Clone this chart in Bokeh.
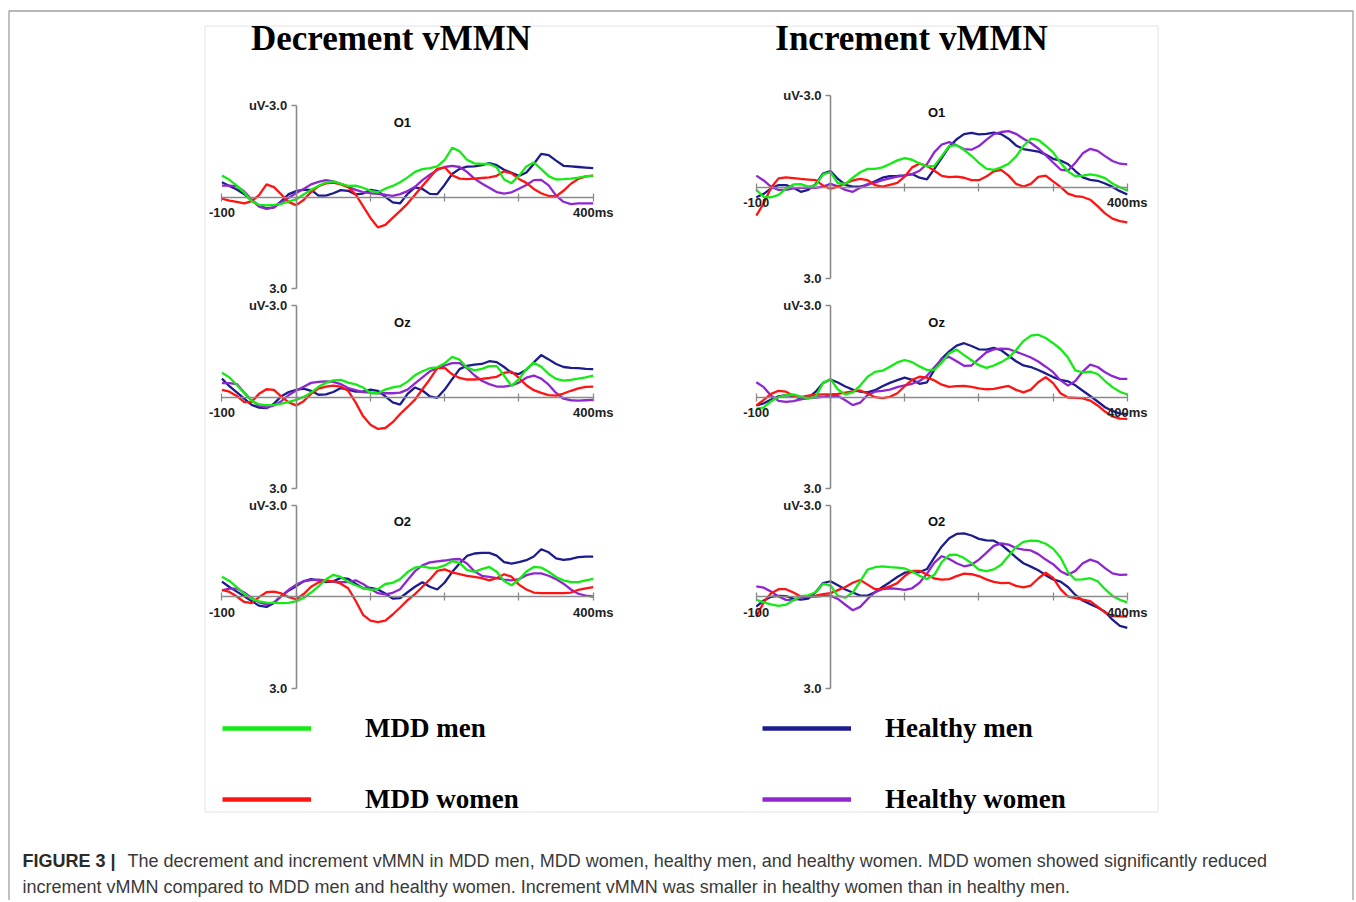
from bokeh.plotting import figure
from bokeh.models import Range1d, LinearAxis, FixedTicker, Legend, LegendItem
from bokeh.core.properties import value
from bokeh.embed import file_html
from bokeh.resources import INLINE

# ---------------- data ----------------
time_ms = list(range(-100, 401, 10))
conditions = ["Decrement vMMN", "Increment vMMN"]
channels = ["O1", "Oz", "O2"]
groups = ["MDD men", "MDD women", "Healthy men", "Healthy women"]
group_colors = ["#14ea14", "#ff1414", "#1c1c8c", "#8f27d1"]
x_ticks = [-100, 0, 100, 200, 300, 400]
x_tick_labels = ["-100", "", "", "", "", "400ms"]
y_ticks = [-3.0, 3.0]
y_tick_labels = ["uV-3.0", "3.0"]

dec_O1_mdd_men = [
    -0.71, -0.57, -0.38, -0.15, 0.13, 0.25, 0.27, 0.25, 0.22, 0.14,
    0.07, -0.09, -0.24, -0.37, -0.48, -0.52, -0.44, -0.37, -0.38, -0.31,
    -0.21, -0.16, -0.28, -0.37, -0.49, -0.65, -0.83, -0.92, -0.95, -1.01,
    -1.22, -1.62, -1.51, -1.23, -1.11, -1.09, -1.09, -0.98, -0.58, -0.46,
    -0.70, -1.01, -1.14, -0.92, -0.69, -0.58, -0.59, -0.61, -0.64, -0.68,
    -0.71]
dec_O1_mdd_women = [
    0.05, 0.11, 0.15, 0.20, 0.13, -0.07, -0.42, -0.33, -0.09, 0.16,
    0.26, 0.09, -0.17, -0.36, -0.45, -0.48, -0.42, -0.33, -0.09, 0.29,
    0.68, 0.99, 0.91, 0.68, 0.45, 0.21, -0.08, -0.37, -0.65, -0.93,
    -0.98, -0.72, -0.61, -0.59, -0.61, -0.63, -0.65, -0.70, -0.85, -0.78,
    -0.60, -0.47, -0.27, -0.13, -0.04, -0.03, -0.21, -0.44, -0.60, -0.68,
    -0.71]
dec_O1_healthy_men = [
    -0.49, -0.37, -0.25, -0.10, 0.11, 0.27, 0.37, 0.33, 0.13, -0.10,
    -0.20, -0.25, -0.24, -0.05, -0.05, -0.13, -0.23, -0.21, -0.09, -0.12,
    -0.24, -0.20, -0.01, 0.17, 0.20, -0.11, -0.32, -0.27, -0.11, -0.10,
    -0.41, -0.76, -0.93, -1.00, -1.01, -1.05, -1.12, -1.05, -0.90, -0.80,
    -0.70, -0.81, -1.09, -1.42, -1.38, -1.20, -1.03, -1.01, -0.99, -0.97,
    -0.95]
dec_O1_healthy_women = [
    -0.38, -0.38, -0.36, -0.19, 0.08, 0.31, 0.38, 0.33, 0.17, 0.02,
    -0.14, -0.27, -0.42, -0.50, -0.56, -0.52, -0.44, -0.34, -0.24, -0.17,
    -0.13, -0.11, -0.08, -0.04, -0.10, -0.20, -0.34, -0.56, -0.74, -0.89,
    -0.99, -1.03, -0.99, -0.83, -0.61, -0.45, -0.31, -0.17, -0.12, -0.16,
    -0.28, -0.40, -0.56, -0.57, -0.39, -0.05, 0.15, 0.23, 0.20, 0.20,
    0.20]

dec_Oz_mdd_men = [
    -0.80, -0.65, -0.40, -0.14, 0.12, 0.24, 0.26, 0.25, 0.21, 0.15,
    0.09, -0.01, -0.15, -0.34, -0.47, -0.55, -0.57, -0.48, -0.42, -0.32,
    -0.13, -0.13, -0.25, -0.32, -0.36, -0.51, -0.72, -0.85, -0.95, -0.98,
    -1.11, -1.32, -1.23, -0.97, -0.88, -0.93, -1.02, -1.02, -0.71, -0.37,
    -0.59, -0.92, -1.13, -1.00, -0.76, -0.60, -0.54, -0.57, -0.61, -0.65,
    -0.71]
dec_Oz_mdd_women = [
    -0.24, -0.18, -0.04, 0.16, 0.15, -0.11, -0.26, -0.24, -0.02, 0.17,
    0.27, 0.13, -0.11, -0.28, -0.35, -0.38, -0.35, -0.21, 0.17, 0.62,
    0.90, 1.04, 1.01, 0.82, 0.55, 0.32, 0.08, -0.26, -0.59, -0.95,
    -0.96, -0.75, -0.63, -0.58, -0.58, -0.60, -0.63, -0.67, -0.80, -0.84,
    -0.63, -0.39, -0.23, -0.14, -0.07, -0.05, -0.12, -0.21, -0.29, -0.34,
    -0.35]
dec_Oz_healthy_men = [
    -0.61, -0.36, -0.16, 0.05, 0.25, 0.34, 0.36, 0.21, -0.03, -0.17,
    -0.24, -0.28, -0.21, -0.08, -0.09, -0.17, -0.30, -0.25, -0.18, -0.18,
    -0.25, -0.21, -0.03, 0.17, 0.24, -0.11, -0.32, -0.22, -0.03, 0.02,
    -0.25, -0.59, -0.92, -1.03, -1.07, -1.09, -1.18, -1.15, -0.99, -0.80,
    -0.76, -0.90, -1.14, -1.38, -1.24, -1.09, -0.99, -0.96, -0.95, -0.93,
    -0.92]
dec_Oz_healthy_women = [
    -0.46, -0.46, -0.43, -0.15, 0.11, 0.28, 0.34, 0.27, 0.13, -0.07,
    -0.22, -0.34, -0.47, -0.50, -0.52, -0.50, -0.43, -0.30, -0.23, -0.17,
    -0.15, -0.13, -0.13, -0.13, -0.15, -0.25, -0.45, -0.65, -0.85, -0.95,
    -1.04, -1.12, -1.12, -0.95, -0.72, -0.54, -0.43, -0.35, -0.35, -0.39,
    -0.48, -0.64, -0.71, -0.61, -0.41, -0.14, 0.05, 0.10, 0.11, 0.10,
    0.09]

dec_O2_mdd_men = [
    -0.65, -0.51, -0.31, -0.09, 0.08, 0.16, 0.20, 0.21, 0.22, 0.21,
    0.15, 0.05, -0.13, -0.33, -0.56, -0.71, -0.64, -0.48, -0.37, -0.28,
    -0.22, -0.24, -0.41, -0.45, -0.57, -0.80, -0.95, -0.99, -0.94, -0.94,
    -1.02, -1.16, -1.10, -0.87, -0.81, -0.90, -0.97, -0.81, -0.51, -0.37,
    -0.55, -0.82, -0.97, -0.95, -0.81, -0.64, -0.53, -0.47, -0.47, -0.53,
    -0.58]
dec_O2_mdd_women = [
    -0.22, -0.15, 0.00, 0.18, 0.22, 0.02, -0.14, -0.16, -0.10, 0.02,
    0.09, -0.08, -0.32, -0.46, -0.51, -0.50, -0.42, -0.27, 0.14, 0.60,
    0.79, 0.84, 0.79, 0.59, 0.36, 0.12, -0.08, -0.32, -0.56, -0.84,
    -0.89, -0.79, -0.73, -0.68, -0.64, -0.60, -0.53, -0.60, -0.73, -0.65,
    -0.39, -0.23, -0.13, -0.11, -0.11, -0.11, -0.11, -0.13, -0.22, -0.27,
    -0.31]
dec_O2_healthy_men = [
    -0.49, -0.31, -0.16, -0.01, 0.15, 0.30, 0.34, 0.21, -0.02, -0.20,
    -0.34, -0.50, -0.57, -0.53, -0.47, -0.50, -0.61, -0.58, -0.42, -0.27,
    -0.28, -0.23, -0.10, 0.07, 0.05, -0.14, -0.32, -0.47, -0.32, -0.23,
    -0.46, -0.80, -1.08, -1.33, -1.41, -1.43, -1.43, -1.34, -1.13, -1.08,
    -1.13, -1.19, -1.31, -1.55, -1.45, -1.25, -1.20, -1.23, -1.29, -1.31,
    -1.31]
dec_O2_healthy_women = [
    -0.20, -0.26, -0.26, -0.13, 0.05, 0.19, 0.26, 0.20, -0.01, -0.22,
    -0.39, -0.50, -0.54, -0.55, -0.53, -0.49, -0.47, -0.47, -0.53, -0.41,
    -0.25, -0.11, -0.07, -0.12, -0.24, -0.54, -0.83, -1.02, -1.12, -1.15,
    -1.18, -1.22, -1.23, -1.08, -0.83, -0.68, -0.64, -0.60, -0.55, -0.53,
    -0.57, -0.70, -0.76, -0.76, -0.68, -0.57, -0.42, -0.23, -0.09, -0.03,
    0.00]

inc_O1_mdd_men = [
    0.09, 0.32, 0.33, 0.25, 0.05, -0.09, -0.10, -0.02, -0.07, -0.42,
    -0.49, -0.13, -0.11, -0.31, -0.49, -0.60, -0.60, -0.65, -0.76, -0.88,
    -0.95, -0.90, -0.78, -0.68, -0.70, -1.02, -1.35, -1.38, -1.22, -1.03,
    -0.80, -0.61, -0.57, -0.65, -0.77, -1.00, -1.35, -1.59, -1.55, -1.36,
    -1.14, -0.80, -0.52, -0.36, -0.38, -0.42, -0.38, -0.30, -0.12, 0.00,
    0.11]
inc_O1_mdd_women = [
    0.93, 0.53, 0.01, -0.29, -0.32, -0.30, -0.27, -0.25, -0.23, -0.05,
    0.05, -0.02, -0.12, -0.22, -0.27, -0.23, -0.07, -0.02, -0.08, -0.14,
    -0.35, -0.65, -0.77, -0.70, -0.54, -0.37, -0.33, -0.35, -0.31, -0.23,
    -0.23, -0.35, -0.52, -0.57, -0.38, -0.11, -0.02, -0.11, -0.34, -0.38,
    -0.19, -0.01, 0.21, 0.29, 0.32, 0.41, 0.62, 0.86, 1.03, 1.11,
    1.15]
inc_O1_healthy_men = [
    0.33, 0.22, 0.04, -0.07, -0.07, 0.02, 0.15, 0.09, -0.10, -0.45,
    -0.53, -0.27, -0.08, -0.02, -0.02, -0.08, -0.19, -0.31, -0.36, -0.37,
    -0.39, -0.43, -0.31, -0.26, -0.60, -0.96, -1.33, -1.57, -1.74, -1.78,
    -1.73, -1.75, -1.79, -1.74, -1.59, -1.37, -1.25, -1.21, -1.17, -1.07,
    -0.93, -0.87, -0.76, -0.53, -0.32, -0.24, -0.21, -0.12, -0.01, 0.13,
    0.24]
inc_O1_healthy_women = [
    -0.38, -0.22, -0.01, 0.09, 0.09, 0.04, 0.02, 0.02, 0.02, -0.02,
    -0.11, -0.03, 0.09, 0.15, 0.02, -0.10, -0.15, -0.23, -0.29, -0.35,
    -0.38, -0.43, -0.54, -0.76, -1.15, -1.40, -1.48, -1.37, -1.25, -1.23,
    -1.35, -1.55, -1.74, -1.81, -1.84, -1.75, -1.59, -1.45, -1.27, -1.05,
    -0.81, -0.58, -0.54, -0.80, -1.11, -1.26, -1.19, -1.02, -0.86, -0.77,
    -0.75]

inc_Oz_mdd_men = [
    0.38, 0.33, 0.13, 0.00, -0.07, -0.09, -0.02, 0.05, -0.02, -0.47,
    -0.60, -0.25, -0.09, -0.16, -0.38, -0.67, -0.83, -0.87, -1.00, -1.14,
    -1.22, -1.15, -1.01, -0.89, -0.90, -1.14, -1.44, -1.56, -1.38, -1.21,
    -1.05, -0.96, -1.04, -1.15, -1.29, -1.55, -1.84, -2.02, -2.05, -1.94,
    -1.77, -1.58, -1.30, -0.88, -0.81, -0.84, -0.76, -0.53, -0.33, -0.18,
    -0.09]
inc_Oz_mdd_women = [
    0.27, 0.09, -0.11, -0.21, -0.18, -0.04, 0.00, -0.05, -0.08, -0.09,
    -0.09, -0.11, -0.15, -0.19, -0.22, -0.12, 0.00, 0.03, -0.01, -0.13,
    -0.36, -0.57, -0.67, -0.64, -0.55, -0.41, -0.34, -0.36, -0.37, -0.34,
    -0.29, -0.26, -0.27, -0.32, -0.37, -0.24, -0.16, -0.25, -0.49, -0.66,
    -0.46, -0.13, 0.01, 0.02, 0.04, 0.11, 0.27, 0.47, 0.63, 0.70,
    0.71]
inc_Oz_healthy_men = [
    0.27, 0.20, 0.08, -0.03, -0.07, -0.04, 0.05, 0.02, -0.18, -0.47,
    -0.58, -0.48, -0.35, -0.25, -0.18, -0.16, -0.23, -0.36, -0.47, -0.56,
    -0.64, -0.57, -0.44, -0.49, -0.90, -1.27, -1.50, -1.69, -1.77, -1.68,
    -1.57, -1.56, -1.62, -1.54, -1.36, -1.18, -1.04, -0.99, -0.89, -0.78,
    -0.66, -0.57, -0.52, -0.39, -0.21, -0.04, 0.14, 0.33, 0.45, 0.54,
    0.55]
inc_Oz_healthy_women = [
    -0.49, -0.33, -0.05, 0.12, 0.15, 0.13, 0.07, 0.03, 0.01, -0.01,
    -0.05, -0.04, 0.10, 0.26, 0.18, -0.07, -0.18, -0.21, -0.25, -0.33,
    -0.39, -0.44, -0.53, -0.70, -0.98, -1.25, -1.32, -1.18, -1.03, -1.04,
    -1.26, -1.47, -1.57, -1.59, -1.58, -1.49, -1.40, -1.30, -1.17, -1.00,
    -0.82, -0.55, -0.38, -0.53, -0.84, -1.07, -0.99, -0.82, -0.69, -0.60,
    -0.60]

inc_O2_mdd_men = [
    0.11, 0.19, 0.26, 0.31, 0.27, 0.12, -0.01, -0.04, -0.14, -0.42,
    -0.36, -0.02, 0.04, -0.13, -0.50, -0.88, -0.96, -0.99, -0.96, -0.95,
    -0.92, -0.82, -0.68, -0.57, -0.71, -1.13, -1.36, -1.37, -1.26, -1.09,
    -0.88, -0.83, -0.89, -1.04, -1.33, -1.62, -1.79, -1.83, -1.82, -1.73,
    -1.57, -1.28, -0.80, -0.55, -0.56, -0.60, -0.50, -0.24, -0.02, 0.11,
    0.19]
inc_O2_mdd_women = [
    0.66, 0.19, -0.11, -0.24, -0.24, -0.13, 0.00, 0.00, -0.03, -0.08,
    -0.11, -0.21, -0.31, -0.45, -0.54, -0.39, -0.24, -0.25, -0.33, -0.44,
    -0.67, -0.84, -0.84, -0.72, -0.59, -0.55, -0.57, -0.67, -0.75, -0.73,
    -0.67, -0.56, -0.48, -0.44, -0.45, -0.35, -0.30, -0.36, -0.59, -0.78,
    -0.61, -0.24, 0.00, 0.05, 0.10, 0.15, 0.33, 0.53, 0.64, 0.65,
    0.66]
inc_O2_healthy_men = [
    0.33, 0.13, 0.01, -0.02, -0.01, 0.07, 0.10, 0.07, -0.14, -0.44,
    -0.50, -0.37, -0.23, -0.13, -0.03, -0.03, -0.14, -0.31, -0.47, -0.64,
    -0.78, -0.81, -0.80, -0.90, -1.28, -1.64, -1.91, -2.05, -2.07, -2.00,
    -1.89, -1.84, -1.83, -1.70, -1.50, -1.28, -1.09, -0.98, -0.86, -0.70,
    -0.56, -0.49, -0.31, -0.05, 0.13, 0.25, 0.36, 0.50, 0.76, 0.96,
    1.03]
inc_O2_healthy_women = [
    -0.33, -0.29, -0.16, 0.00, 0.11, 0.12, 0.03, 0.00, 0.00, -0.02,
    -0.03, 0.08, 0.27, 0.45, 0.34, 0.08, -0.14, -0.24, -0.27, -0.25,
    -0.22, -0.27, -0.45, -0.75, -1.11, -1.32, -1.23, -1.09, -0.99, -1.04,
    -1.21, -1.43, -1.66, -1.74, -1.70, -1.59, -1.54, -1.51, -1.39, -1.21,
    -1.06, -0.83, -0.71, -0.84, -1.09, -1.21, -1.13, -0.93, -0.76, -0.71,
    -0.72]

caption_bold = "FIGURE 3 |"
caption_line1 = ("The decrement and increment vMMN in MDD men, MDD women, healthy men, "
                 "and healthy women. MDD women showed significantly reduced")
caption_line2 = ("increment vMMN compared to MDD men and healthy women. Increment vMMN "
                 "was smaller in healthy women than in healthy men.")

series = {
    ("Decrement vMMN", "O1"): [dec_O1_mdd_men, dec_O1_mdd_women, dec_O1_healthy_men, dec_O1_healthy_women],
    ("Decrement vMMN", "Oz"): [dec_Oz_mdd_men, dec_Oz_mdd_women, dec_Oz_healthy_men, dec_Oz_healthy_women],
    ("Decrement vMMN", "O2"): [dec_O2_mdd_men, dec_O2_mdd_women, dec_O2_healthy_men, dec_O2_healthy_women],
    ("Increment vMMN", "O1"): [inc_O1_mdd_men, inc_O1_mdd_women, inc_O1_healthy_men, inc_O1_healthy_women],
    ("Increment vMMN", "Oz"): [inc_Oz_mdd_men, inc_Oz_mdd_women, inc_Oz_healthy_men, inc_Oz_healthy_women],
    ("Increment vMMN", "O2"): [inc_O2_mdd_men, inc_O2_mdd_women, inc_O2_healthy_men, inc_O2_healthy_women],
}

# ---------------- layout (page pixels; the figure sits at the page origin) ----------------
W, H = 1354, 900
col_x = {"Decrement vMMN": (295.7, 0.7425), "Increment vMMN": (830.0, 0.742)}  # t=0 px, px per ms
row_zero = {
    ("Decrement vMMN", "O1"): 196.7, ("Increment vMMN", "O1"): 186.7,
    ("Decrement vMMN", "Oz"): 396.7, ("Increment vMMN", "Oz"): 396.7,
    ("Decrement vMMN", "O2"): 596.0, ("Increment vMMN", "O2"): 596.0,
}
UV_PX = 30.5
AX_COL = "#8a8a8a"
LABEL_FONT = "Liberation Sans"

p = figure(width=W, height=H, x_range=Range1d(0, W), y_range=Range1d(H, 0),
           output_backend="svg", toolbar_location=None, min_border=0,
           x_axis_type=None, y_axis_type=None)
p.outline_line_color = None
p.background_fill_color = "white"
p.border_fill_color = "white"

# page frame and figure box
p.line(x=[8.5, 8.5, 1352.5, 1352.5], y=[905, 10.5, 10.5, 905], line_color="#a0a0a0", line_width=1.3)
p.quad(left=[204.5], right=[1157.5], top=[25.5], bottom=[811.5], fill_color=None,
       line_color="#e2e2e2", line_width=1)

xr, yr = {}, {}
for ci, cond in enumerate(conditions):
    a, b = col_x[cond]
    xr[f"x{ci}"] = Range1d((0 - a) / b, (W - a) / b)
    for ri, ch in enumerate(channels):
        z = row_zero[(cond, ch)]
        yr[f"y{ci}{ri}"] = Range1d((H - z) / UV_PX, (0 - z) / UV_PX)
p.extra_x_ranges = xr
p.extra_y_ranges = yr

draw_order = [2, 3, 1, 0]
for ci, cond in enumerate(conditions):
    xn = f"x{ci}"
    for ri, ch in enumerate(channels):
        yn = f"y{ci}{ri}"
        xa = LinearAxis(x_range_name=xn, y_range_name=yn, fixed_location=0, bounds=(-100, 400),
                        ticker=FixedTicker(ticks=x_ticks, minor_ticks=[]),
                        major_label_overrides={t: l for t, l in zip(x_ticks, x_tick_labels)},
                        axis_line_color=AX_COL, axis_line_width=1.6,
                        major_tick_line_color=AX_COL, major_tick_line_width=1.3,
                        major_tick_in=4, major_tick_out=4, minor_tick_line_color=None,
                        major_label_text_font=LABEL_FONT, major_label_text_font_style="bold",
                        major_label_text_font_size="13px", major_label_text_color="#222222",
                        major_label_standoff=4)
        p.add_layout(xa, "below")
        ya = LinearAxis(x_range_name=xn, y_range_name=yn, fixed_location=0, bounds=(-3, 3),
                        ticker=FixedTicker(ticks=y_ticks, minor_ticks=[]),
                        major_label_overrides={t: l for t, l in zip(y_ticks, y_tick_labels)},
                        axis_line_color=AX_COL, axis_line_width=1.6,
                        major_tick_line_color=AX_COL, major_tick_line_width=1.3,
                        major_tick_in=0, major_tick_out=5, minor_tick_line_color=None,
                        major_label_text_font=LABEL_FONT, major_label_text_font_style="bold",
                        major_label_text_font_size="13px", major_label_text_color="#222222",
                        major_label_standoff=4)
        p.add_layout(ya, "left")
        vals = series[(cond, ch)]
        for gi in draw_order:
            p.line(time_ms, vals[gi], x_range_name=xn, y_range_name=yn,
                   line_color=group_colors[gi], line_width=2.3)
        p.text(x=[143], y=[-2.45], text=[ch], x_range_name=xn, y_range_name=yn,
               text_font=value(LABEL_FONT), text_font_style="bold", text_font_size="13px",
               text_align="center", text_baseline="middle", text_color="#111111")

# titles
p.text(x=[390.5, 911.0], y=[38, 38], text=conditions, text_font=value("Liberation Serif"),
       text_font_style="bold", text_font_size="35px", text_align="center",
       text_baseline="middle", text_color="black")

# legends (swatch renderers hold no drawable point; they only style the legend glyph)
nan = float("nan")
swatches = [p.line(x=[nan], y=[nan], line_color=c, line_width=4.5) for c in group_colors]
leg_common = dict(orientation="vertical", glyph_width=89, glyph_height=32, label_height=32,
                  spacing=39, padding=0, margin=0, border_line_color=None,
                  background_fill_alpha=0, label_text_font="Liberation Serif",
                  label_text_font_style="bold", label_text_font_size="27px",
                  label_text_color="black")
leg_left = Legend(items=[LegendItem(label=groups[0], renderers=[swatches[0]]),
                         LegendItem(label=groups[1], renderers=[swatches[1]])],
                  location=(222, 85), label_standoff=54, **leg_common)
leg_right = Legend(items=[LegendItem(label=groups[2], renderers=[swatches[2]]),
                          LegendItem(label=groups[3], renderers=[swatches[3]])],
                   location=(762, 85), label_standoff=34, **leg_common)
p.add_layout(leg_left, "center")
p.add_layout(leg_right, "center")

# caption
p.text(x=[22], y=[860], text=[caption_bold], text_font=value("Liberation Sans"),
       text_font_style="bold", text_font_size="18px", text_align="left",
       text_baseline="middle", text_color="#2a2a2a")
p.text(x=[127, 22], y=[860, 886], text=[caption_line1, caption_line2],
       text_font=value("Liberation Sans"), text_font_size="18px", text_align="left",
       text_baseline="middle", text_color="#3a3a3a")

open("out.html", "w").write(file_html(p, INLINE))
